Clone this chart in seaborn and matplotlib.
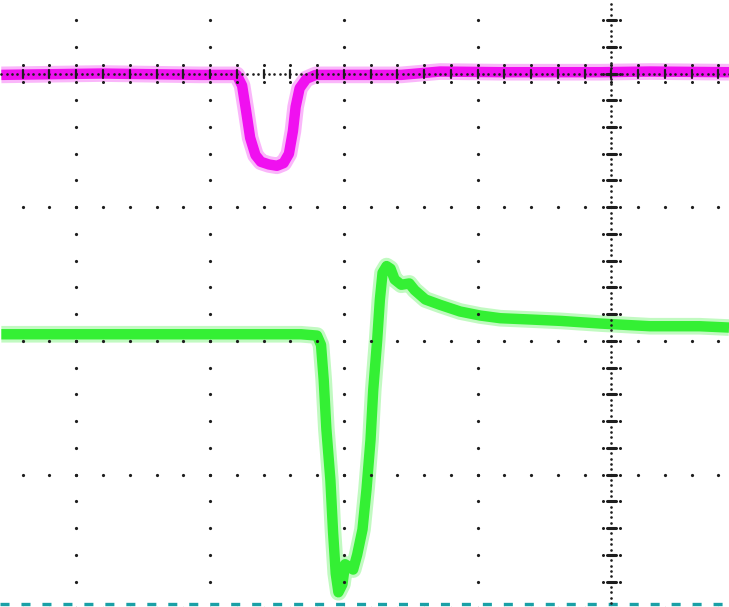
import numpy as np
import matplotlib
matplotlib.use("Agg")
import matplotlib.pyplot as plt
import seaborn as sns

# ---- data (time and amplitude in screen divisions) ----
ch_magenta_t = [-4.56, -3.81, -3.07, -2.80, -2.76, -2.73, -2.70, -2.66, -2.62, -2.56,
                -2.50, -2.45, -2.41, -2.38, -2.36, -2.33, -2.28, -2.21, -2.02, -1.57,
                -1.28, -0.83, -0.08, 0.29, 0.88]
ch_magenta_v = [-0.01, 0.00, -0.01, -0.01, -0.09, -0.28, -0.48, -0.61, -0.66, -0.68,
                -0.69, -0.67, -0.60, -0.43, -0.25, -0.11, -0.04, -0.01, -0.01, -0.01,
                0.015, 0.01, 0.01, 0.015, 0.01]

ch_green_t = [-4.56, -3.81, -3.07, -2.32, -2.20, -2.17, -2.15, -2.13, -2.10, -2.08,
              -2.06, -2.04, -2.01, -1.99, -1.96, -1.93, -1.90, -1.86, -1.83, -1.80,
              -1.78, -1.75, -1.73, -1.71, -1.68, -1.65, -1.62, -1.57, -1.51, -1.47,
              -1.39, -1.28, -1.13, -0.98, -0.83, -0.60, -0.38, -0.08, 0.29, 0.66, 0.88]
ch_green_v = [-1.95, -1.95, -1.95, -1.95, -1.96, -2.03, -2.29, -2.66, -3.04, -3.43,
              -3.74, -3.88, -3.82, -3.67, -3.69, -3.71, -3.60, -3.41, -3.11, -2.74,
              -2.37, -1.99, -1.69, -1.49, -1.44, -1.46, -1.54, -1.58, -1.57, -1.62,
              -1.69, -1.73, -1.78, -1.81, -1.83, -1.84, -1.85, -1.87, -1.89, -1.89, -1.90]

ch_cyan_t = [-4.57, 0.88]
ch_cyan_v = [-3.97, -3.97]

magenta = "#f010f0"
green = "#34f034"
cyan = "#1aa0a6"
dot = "#1e1e1e"

sns.set_style("white")
plt.rcParams["lines.scale_dashes"] = False

fig = plt.figure(figsize=(7.29, 6.07), dpi=100)
ax = fig.add_axes([0, 0, 1, 1])
ax.set_xlim(-4.57, 0.88)
ax.set_ylim(-3.99, 0.55)
ax.axis("off")

# traces: persistence band (light halo + saturated core)
for t, v, c in [(ch_magenta_t, ch_magenta_v, magenta), (ch_green_t, ch_green_v, green)]:
    sns.lineplot(x=t, y=v, ax=ax, color=c, lw=12, alpha=0.3, sort=False,
                 estimator=None, solid_joinstyle="round", solid_capstyle="butt", zorder=2)
    sns.lineplot(x=t, y=v, ax=ax, color=c, lw=7.5, alpha=1.0, sort=False,
                 estimator=None, solid_joinstyle="round", solid_capstyle="butt", zorder=3)

cl = sns.lineplot(x=ch_cyan_t, y=ch_cyan_v, ax=ax, color=cyan, lw=2.4, sort=False,
                  estimator=None, zorder=3)
cl.lines[-1].set_dashes([6.5, 8.6])

# graticule: dotted grid lines
step = 0.2
ydots = np.arange(-20, 3) * step
xdots = np.arange(-23, 5) * step
for gx in [-4, -3, -2, -1]:
    ax.plot(np.full_like(ydots, gx), ydots, ls="none", marker="o", ms=2.3,
            mfc=dot, mec="none", zorder=5)
for gy in [-1, -2, -3, -4]:
    ax.plot(xdots, np.full_like(xdots, gy), ls="none", marker="o", ms=2.3,
            mfc=dot, mec="none", zorder=5)

# centre axes with dense dots and tick marks
fine = 0.04
vy = np.arange(-100, 14) * fine
ax.plot(np.zeros_like(vy), vy, ls="none", marker="o", ms=1.9, mfc=dot, mec="none", zorder=5)
hx = np.arange(-115, 23) * fine
ax.plot(hx, np.zeros_like(hx), ls="none", marker="o", ms=1.9, mfc=dot, mec="none", zorder=5)
for yy in ydots:
    ax.plot([-0.032, 0.032], [yy, yy], color=dot, lw=2.2, zorder=5)
    ax.plot([-0.063, 0.063], [yy, yy], ls="none", marker="o", ms=2.2, mfc=dot, mec="none", zorder=5)
for xx in xdots:
    ax.plot([xx, xx], [-0.03, 0.03], color=dot, lw=1.6, zorder=5)
    ax.plot([xx, xx], [-0.063, 0.063], ls="none", marker="o", ms=2.2, mfc=dot, mec="none", zorder=5)

fig.savefig("out.png", dpi=100, facecolor="white")
